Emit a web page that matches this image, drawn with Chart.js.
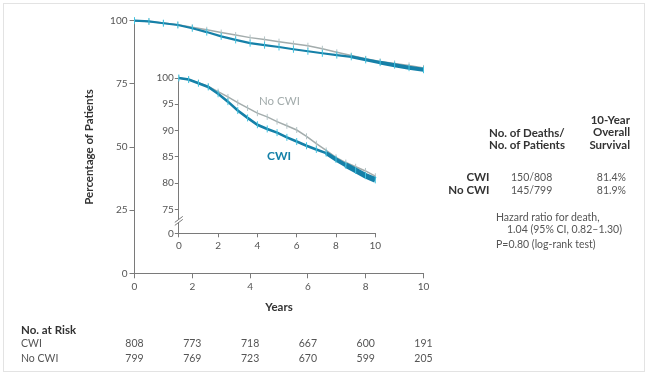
<!DOCTYPE html>
<html>
<head>
<meta charset="utf-8">
<script src="https://cdn.jsdelivr.net/npm/chart.js@4.4.1/dist/chart.umd.min.js"></script>
<style>
  html, body { margin: 0; padding: 0; background: #fff; }
  #wrap { position: relative; width: 650px; height: 376px; overflow: hidden; font-family: Lato, "Open Sans", sans-serif; color: #333; }
  #frame { position: absolute; left: 3px; top: 3px; width: 642px; height: 369px; border: 1px solid #e3e3e3; box-sizing: border-box; }
  canvas { position: absolute; left: 0; top: 0; }
  .t { position: absolute; white-space: nowrap; line-height: 1; font-size: 10.5px; color: #555; }
  .b { font-weight: bold; color: #333; font-size: 11.5px; }
</style>
</head>
<body>
<div id="wrap">
  <div id="frame"></div>
  <canvas id="main" width="650" height="376"></canvas>
  <canvas id="inset" width="650" height="376"></canvas>
</div>
<script>
// Kaplan-Meier curves (years, % alive)
const years     = [0, 0.5, 1, 1.5, 2, 2.5, 3, 3.5, 4, 4.5, 5, 5.5, 6, 6.5, 7, 7.5, 8, 8.5, 9, 9.5, 10, 10.2];
const survCWI   = [100, 99.7, 99.0, 98.3, 97.0, 95.5, 93.8, 92.4, 91.1, 90.3, 89.6, 88.7, 87.9, 87.1, 86.4, 85.7, 84.5, 83.4, 82.4, 81.4, 80.6, 80.3];
const survNoCWI = [100, 99.7, 99.1, 98.4, 97.4, 96.4, 95.3, 94.3, 93.3, 92.6, 91.7, 90.9, 90.1, 88.9, 87.5, 86.2, 84.9, 83.9, 83.1, 82.3, 81.3, 81.0];

// numbers at risk
const riskTimes = [0, 2, 4, 6, 8, 10];
const riskCWI   = [808, 773, 718, 667, 600, 191];
const riskNoCWI = [799, 769, 723, 670, 599, 205];

const mainYTicks  = [0, 25, 50, 75, 100];
const insetYTicks = [75, 80, 85, 90, 95, 100];
const insetFloor  = 70.43;   // where the broken axis shows "0"

const TEAL = '#1580a8';
const CYAN = '#43c3df';
const GREY = '#a3acac';
const AXIS = '#7a7a7a';

const wrap = document.getElementById('wrap');
function addText(txt, x, y, align, cls) {
    const d = document.createElement('div');
    d.className = 't' + (cls ? ' ' + cls : '');
    d.textContent = txt;
    d.style.left = x + 'px';
    d.style.top = y + 'px';
    const tx = align === 'r' ? '-100%' : align === 'c' ? '-50%' : '0';
    d.style.transform = 'translate(' + tx + ',-50%)';
    wrap.appendChild(d);
    return d;
}

function points(vals) {
    return years.map((t, i) => ({x: t, y: vals[i]}));
}

function curves(thin, thick) {
    return [{
        label: 'CWI',
        data: points(survCWI),
        borderColor: TEAL,
        borderWidth: thin,
        pointStyle: 'line',
        rotation: 90,
        pointRadius: 3.5,
        pointBorderColor: CYAN,
        pointBorderWidth: 1,
        tension: 0,
        clip: false,
        segment: {
            borderWidth: ctx => ctx.p0.parsed.x >= 8.5 ? thick : (ctx.p0.parsed.x >= 7.5 ? (thin + thick) / 2 : thin)
        }
    }, {
        label: 'No CWI',
        data: points(survNoCWI),
        borderColor: GREY,
        borderWidth: 1.5,
        pointStyle: 'line',
        rotation: 90,
        pointRadius: 3,
        pointBorderColor: '#b4c4c6',
        pointBorderWidth: 1,
        tension: 0,
        clip: false
    }];
}

const tickFont = {family: 'Lato', size: 10};

function axisX(tickLen, extra) {
    return Object.assign({
        type: 'linear', min: 0, max: 10,
        grid: {drawOnChartArea: false, drawTicks: true, tickLength: tickLen, color: AXIS},
        border: {display: true, color: AXIS, width: 1},
        ticks: {stepSize: 2, autoSkip: false, maxRotation: 0, font: tickFont, color: '#555', padding: 2}
    }, extra);
}

const mainChart = new Chart(document.getElementById('main'), {
    type: 'line',
    data: {datasets: curves(2.2, 4)},
    options: {
        responsive: false,
        animation: false,
        layout: {padding: {left: 82.4, top: 20.7, right: 226.5, bottom: 61.7}},
        plugins: {legend: {display: false}, tooltip: {enabled: false}},
        scales: {
            x: axisX(5, {
                title: {display: true, text: 'Years', font: {family: 'Lato', size: 11.5, weight: 'bold'}, color: '#333', padding: 0},
                afterFit: s => { s.height = 41; }
            }),
            y: {
                min: 0, max: 100,
                afterBuildTicks: s => { s.ticks = mainYTicks.map(v => ({value: v})); },
                afterFit: s => { s.width = 52.1; },
                grid: {drawOnChartArea: false, drawTicks: true, tickLength: 5, color: AXIS},
                border: {display: true, color: AXIS, width: 1},
                ticks: {font: tickFont, color: '#555', padding: 2},
                title: {display: true, text: 'Percentage of Patients', font: {family: 'Lato', size: 11.5, weight: 'bold'}, color: '#333', padding: 0}
            }
        }
    }
});

const brokenAxis = {
    id: 'brokenAxis',
    afterDraw(chart) {
        const ctx = chart.ctx;
        const x = chart.chartArea.left;
        const yb = chart.scales.y.getPixelForValue(72.7);
        ctx.save();
        ctx.fillStyle = '#fff';
        ctx.fillRect(x - 2, yb - 2, 4, 3);
        ctx.strokeStyle = AXIS;
        ctx.lineWidth = 1;
        ctx.beginPath();
        ctx.moveTo(x - 4, yb + 1); ctx.lineTo(x + 4, yb - 5);
        ctx.moveTo(x - 4, yb + 4); ctx.lineTo(x + 4, yb - 2);
        ctx.stroke();
        ctx.restore();
    }
};

const insetChart = new Chart(document.getElementById('inset'), {
    type: 'line',
    data: {datasets: curves(2.6, 5.5)},
    options: {
        responsive: false,
        animation: false,
        layout: {padding: {left: 140, top: 78, right: 274.7, bottom: 122.7}},
        plugins: {legend: {display: false}, tooltip: {enabled: false}},
        scales: {
            x: axisX(4, {afterFit: s => { s.height = 20; }}),
            y: {
                min: insetFloor, max: 100,
                afterBuildTicks: s => { s.ticks = [insetFloor].concat(insetYTicks).map(v => ({value: v})); },
                afterFit: s => { s.width = 38.8; },
                grid: {drawOnChartArea: false, drawTicks: true, tickLength: 4, color: AXIS},
                border: {display: true, color: AXIS, width: 1},
                ticks: {font: tickFont, color: '#555', padding: 1, callback: v => v < 74 ? '0' : v}
            }
        }
    },
    plugins: [brokenAxis]
});

// curve labels in the inset
addText('No CWI', 259, 101, 'l').style.cssText += 'font-size:11.5px;color:#a3acac;';
addText('CWI', 267, 156, 'l', 'b').style.cssText += 'font-size:12px;color:' + TEAL + ';';

// table of numbers at risk, aligned with the main x axis
const xs = mainChart.scales.x;
addText('No. at Risk', 21, 330, 'l', 'b');
addText('CWI', 21, 342.5, 'l');
addText('No CWI', 21, 357.5, 'l');
riskTimes.forEach((t, i) => {
    addText(String(riskCWI[i]), xs.getPixelForValue(t), 342.5, 'c');
    addText(String(riskNoCWI[i]), xs.getPixelForValue(t), 357.5, 'c');
});

// summary panel
addText('10-Year', 630, 119.5, 'r', 'b');
addText('Overall', 630, 132.3, 'r', 'b');
addText('Survival', 630, 145, 'r', 'b');
addText('No. of Deaths/', 489, 132.7, 'l', 'b');
addText('No. of Patients', 489, 145.3, 'l', 'b');
addText('CWI', 489.5, 177.3, 'r', 'b');
addText('No CWI', 489.5, 190, 'r', 'b');
addText('150/808', 511, 177.3, 'l');
addText('145/799', 511, 190, 'l');
addText('81.4%', 626, 177.3, 'r');
addText('81.9%', 626, 190, 'r');
addText('Hazard ratio for death,', 496, 216.7, 'l');
addText('1.04 (95% CI, 0.82\u20131.30)', 507, 229.3, 'l');
addText('P=0.80 (log-rank test)', 496, 244.3, 'l');
</script>
</body>
</html>
